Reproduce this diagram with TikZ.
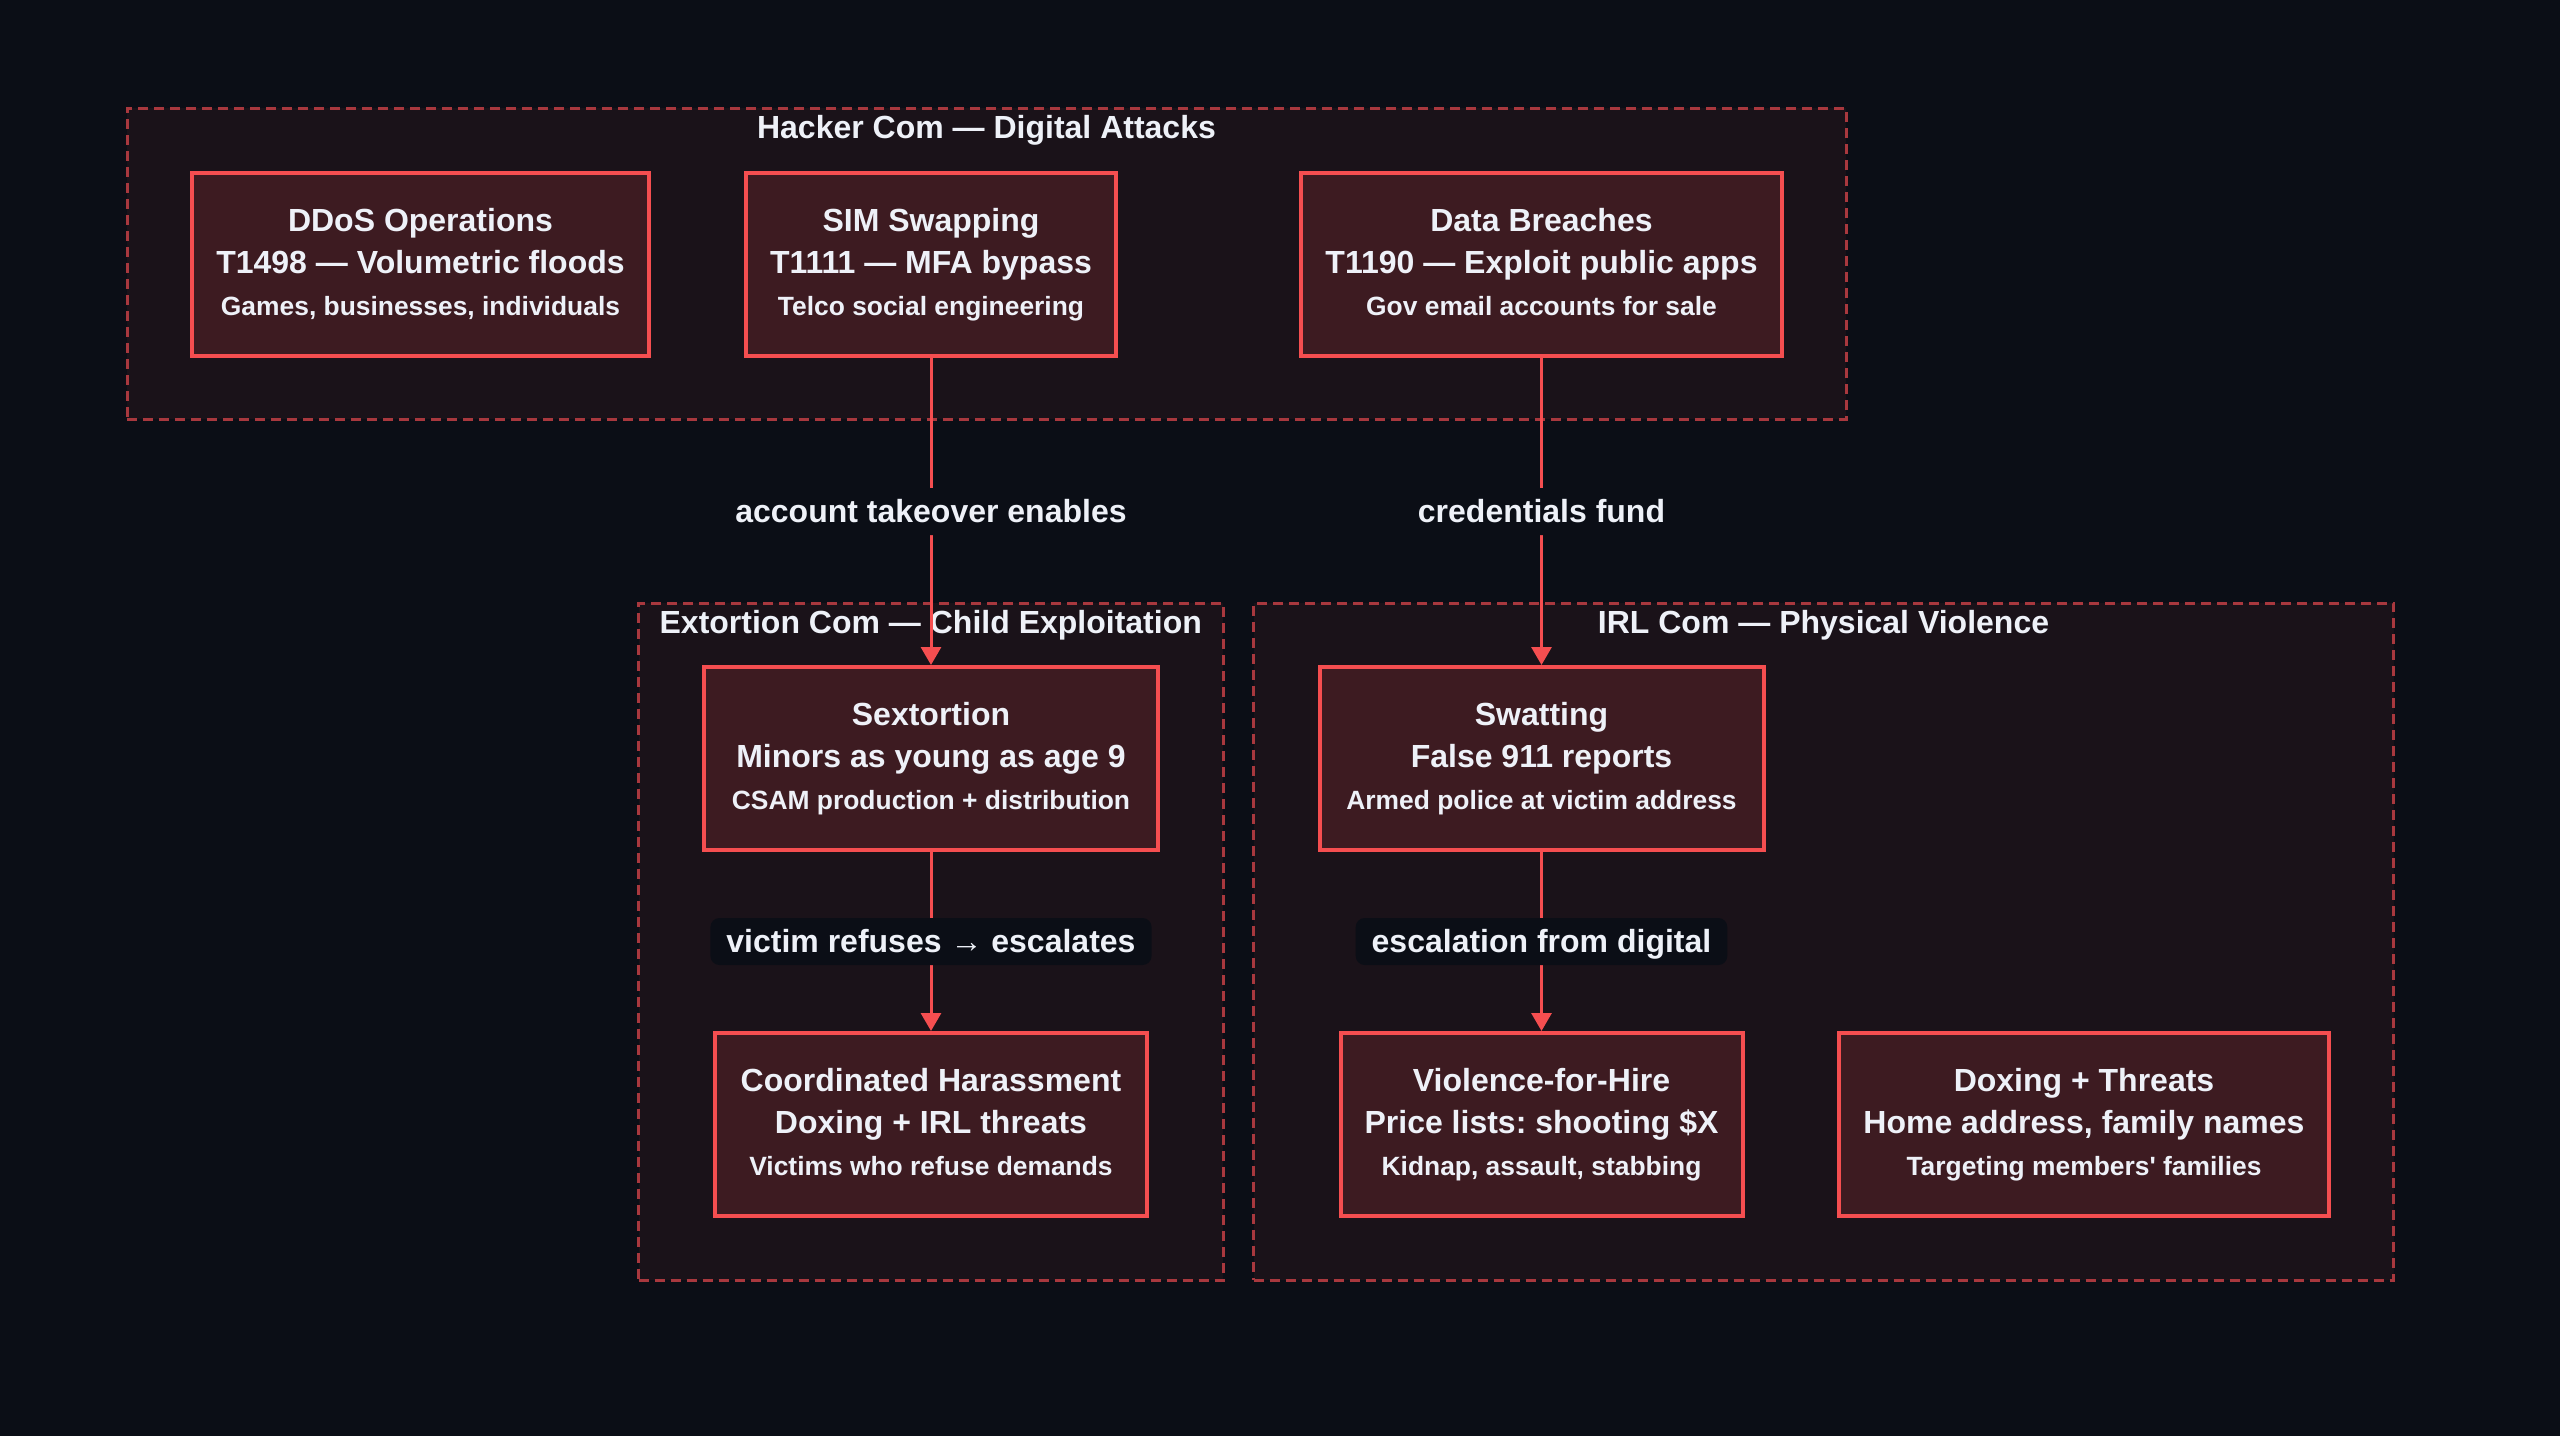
\documentclass[tikz,border=0pt]{standalone}
\usepackage{fontspec}
\setmainfont{Liberation Sans}[Ligatures=TeXOff]
\usetikzlibrary{arrows.meta}
\definecolor{pagebg}{HTML}{0B0E16}
\definecolor{clusterfill}{HTML}{1A1219}
\definecolor{clusterline}{HTML}{A8383E}
\definecolor{boxfill}{HTML}{3D1B21}
\definecolor{boxline}{HTML}{F54E50}
\definecolor{txt}{HTML}{EEF1F8}
\newcommand\firstln[1]{\rule{0pt}{11.7pt}#1}
\newcommand\subln[1]{{\fontsize{13.2}{21}\selectfont #1\rule[-2.9pt]{0pt}{2.9pt}}}
\frenchspacing
\begin{document}
\begin{tikzpicture}[x=0.5pt,y=-0.5pt,
  box/.style={draw=boxline, line width=2pt, fill=boxfill, text=txt, align=center,
    inner sep=0pt, minimum height=91.5pt, font=\bfseries\fontsize{16}{21}\selectfont},
  cluster/.style={draw=clusterline, line width=1.5pt, dash pattern=on 5pt off 3pt,
    fill=clusterfill, inner sep=0pt},
  ctitle/.style={anchor=base, text=txt, inner sep=0pt, font=\bfseries\fontsize{16}{19}\selectfont},
  elabel/.style={fill=pagebg, text=txt, rounded corners=4.5pt, inner xsep=8pt, inner ysep=0pt,
    text height=14.5pt, text depth=3.4pt, minimum height=23.5pt,
    font=\bfseries\fontsize{16}{19}\selectfont},
  flow/.style={draw=boxline, line width=1.5pt, -{Triangle[length=9pt,width=10pt]}},
]
\fill[pagebg] (0,0) rectangle (2560,1436);
\useasboundingbox (0,0) rectangle (2560,1436);

% clusters
\node[cluster, minimum width=859.5pt, minimum height=155.5pt] (hacker) at (986.5,263.5) {};
\node[cluster, minimum width=292.25pt, minimum height=338.5pt] (extortion) at (930.75,941.5) {};
\node[cluster, minimum width=570pt, minimum height=338.5pt] (irl) at (1823.5,941.5) {};

\node[ctitle] (hackertitle) at (986.5,138) {Hacker Com — Digital Attacks};
\node[ctitle] (extortiontitle) at (930.75,633) {Extortion Com — Child Exploitation};
\node[ctitle] (irltitle) at (1823.5,633) {IRL Com — Physical Violence};

% boxes
\node[box, minimum width=228.5pt] (ddos) at (420.5,264.5)
  {\firstln{DDoS Operations}\\T1498 — Volumetric floods\\\subln{Games, businesses, individuals}};
\node[box, minimum width=185pt] (sim) at (931,264.5)
  {\firstln{SIM Swapping}\\T1111 — MFA bypass\\\subln{Telco social engineering}};
\node[box, minimum width=240.5pt] (data) at (1541.5,264.5)
  {\firstln{Data Breaches}\\T1190 — Exploit public apps\\\subln{Gov email accounts for sale}};
\node[box, minimum width=227pt] (sext) at (931,758.5)
  {\firstln{Sextortion}\\Minors as young as age 9\\\subln{CSAM production + distribution}};
\node[box, minimum width=222pt] (swat) at (1541.5,758.5)
  {\firstln{Swatting}\\False 911 reports\\\subln{Armed police at victim address}};
\node[box, minimum width=216pt] (coord) at (931,1124.5)
  {\firstln{Coordinated Harassment}\\Doxing + IRL threats\\\subln{Victims who refuse demands}};
\node[box, minimum width=201pt] (viol) at (1541.5,1124.5)
  {\firstln{Violence-for-Hire}\\Price lists: shooting \$X\\\subln{Kidnap, assault, stabbing}};
\node[box, minimum width=245pt] (dox) at (2084,1124.5)
  {\firstln{Doxing + Threats}\\Home address, family names\\\subln{Targeting members' families}};

% connectors
\draw[flow] (sim.south) -- node[elabel] (l1) {account takeover enables} (sext.north);
\draw[flow] (data.south) -- node[elabel] (l2) {credentials fund} (swat.north);
\draw[flow] (sext.south) -- node[elabel] (l3) {victim refuses → escalates} (coord.north);
\draw[flow] (swat.south) -- node[elabel] (l4) {escalation from digital} (viol.north);
\end{tikzpicture}
\end{document}
